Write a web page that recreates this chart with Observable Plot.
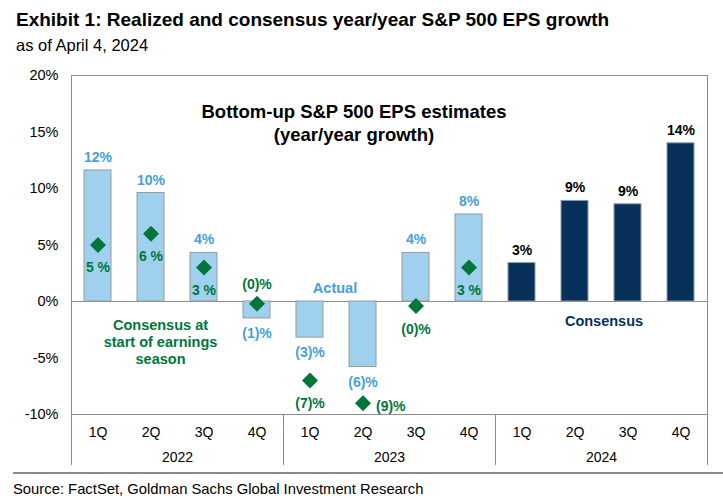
<!DOCTYPE html>
<html>
<head>
<meta charset="utf-8">
<script src="https://cdn.jsdelivr.net/npm/d3@7"></script>
<script src="https://cdn.jsdelivr.net/npm/@observablehq/plot@0.6"></script>
<style>
  html, body { margin: 0; padding: 0; background: #fff; }
  #wrap { position: relative; width: 723px; height: 503px; overflow: hidden; font-family: "Liberation Sans", Arial, sans-serif; color: #000; }
  #title { position: absolute; left: 16px; top: 9px; font-size: 19px; font-weight: bold; line-height: 22px; white-space: nowrap; }
  #subtitle { position: absolute; left: 16px; top: 35px; font-size: 16.5px; line-height: 20px; white-space: nowrap; }
  #chart { position: absolute; left: 0; top: 60px; }
  #sep { position: absolute; left: 13px; right: 0; top: 472px; height: 2px; background: #8c8c8c; }
  #source { position: absolute; left: 13px; top: 480px; font-size: 14.8px; line-height: 18px; white-space: nowrap; }
</style>
</head>
<body>
<div id="wrap">
  <div id="title">Exhibit 1: Realized and consensus year/year S&amp;P 500 EPS growth</div>
  <div id="subtitle">as of April 4, 2024</div>
  <div id="chart"></div>
  <div id="sep"></div>
  <div id="source">Source: FactSet, Goldman Sachs Global Investment Research</div>
</div>
<script>
// ---- data ----
const actualYears = ["2022", "2022", "2022", "2022", "2023", "2023", "2023", "2023"];
const actualQuarters = ["1Q", "2Q", "3Q", "4Q", "1Q", "2Q", "3Q", "4Q"];
const actualGrowth = [11.6, 9.6, 4.3, -1.5, -3.2, -5.8, 4.3, 7.7];
const actualLabels = ["12%", "10%", "4%", "(1)%", "(3)%", "(6)%", "4%", "8%"];

const startConsensus = [5.0, 6.0, 3.0, -0.2, -7.0, -9.0, -0.4, 3.0];
const startLabels = ["5 %", "6 %", "3 %", "(0)%", "(7)%", "(9)%", "(0)%", "3 %"];
const startLabelSide = ["below", "below", "below", "above", "below", "right", "below", "below"];

const consensusYears = ["2024", "2024", "2024", "2024"];
const consensusQuarters = ["1Q", "2Q", "3Q", "4Q"];
const consensusGrowth = [3.4, 8.9, 8.6, 14.0];
const consensusLabels = ["3%", "9%", "9%", "14%"];

const yTicks = [-10, -5, 0, 5, 10, 15, 20];

// ---- tables ----
const actual = actualGrowth.map((v, i) => ({year: actualYears[i], q: actualQuarters[i], value: v, label: actualLabels[i]}));
const start = startConsensus.map((v, i) => ({year: actualYears[i], q: actualQuarters[i], value: v, label: startLabels[i], side: startLabelSide[i]}));
const consensus = consensusGrowth.map((v, i) => ({year: consensusYears[i], q: consensusQuarters[i], value: v, label: consensusLabels[i]}));

const LIGHT = "#9fd0ee", LIGHT_TEXT = "#45a0dc", NAVY = "#07305a", GREEN = "#00763a", GRID = "#8c8c8c";
const FONT = "Liberation Sans, Arial, sans-serif";
const H = 410, MT = 15, MB = 56;

const chart = Plot.plot({
  width: 723,
  height: H,
  marginTop: MT,
  marginBottom: MB,
  marginLeft: 70,
  marginRight: 15,
  style: {fontFamily: FONT, fontSize: "14px", color: "#000", background: "transparent"},
  fx: {domain: ["2022", "2023", "2024"], padding: 0, label: null},
  x: {domain: ["1Q", "2Q", "3Q", "4Q"], paddingInner: 0.49, paddingOuter: 0.245, label: null},
  y: {domain: [-10, 20], label: null},
  marks: [
    Plot.ruleY([0], {stroke: GRID, strokeWidth: 1}),
    Plot.barY(actual, {fx: "year", x: "q", y: "value", fill: LIGHT, stroke: "#9a9a9a", strokeWidth: 1}),
    Plot.barY(consensus, {fx: "year", x: "q", y: "value", fill: NAVY, stroke: "#8f9aa6", strokeWidth: 1}),
    // outer frame of the plot area
    Plot.frame({facet: "super", stroke: GRID}),
    // year dividers in the axis area below the plot
    Plot.frame({anchor: "left", stroke: GRID, insetTop: H - MT - MB, insetBottom: -50}),
    Plot.frame({anchor: "right", stroke: GRID, insetTop: H - MT - MB, insetBottom: -50}),
    Plot.dot(start, {fx: "year", x: "q", y: "value", symbol: "diamond2", r: 7.2, fill: GREEN, stroke: "none"}),
    // actual labels
    Plot.text(actual.filter(d => d.value >= 0), {fx: "year", x: "q", y: "value", text: "label", dy: -13, fill: LIGHT_TEXT, fontWeight: "bold", fontSize: 14, fontFamily: FONT}),
    Plot.text(actual.filter(d => d.value < 0), {fx: "year", x: "q", y: "value", text: "label", dy: 15, fill: LIGHT_TEXT, fontWeight: "bold", fontSize: 14, fontFamily: FONT}),
    // consensus 2024 labels
    Plot.text(consensus, {fx: "year", x: "q", y: "value", text: "label", dy: -13, fill: "#000", fontWeight: "bold", fontSize: 14, fontFamily: FONT}),
    // start-of-season consensus labels
    Plot.text(start.filter(d => d.side === "below"), {fx: "year", x: "q", y: "value", text: "label", dy: 23, fill: GREEN, fontWeight: "bold", fontSize: 14, fontFamily: FONT}),
    Plot.text(start.filter(d => d.side === "above"), {fx: "year", x: "q", y: "value", text: "label", dy: -19, fill: GREEN, fontWeight: "bold", fontSize: 14, fontFamily: FONT}),
    Plot.text(start.filter(d => d.side === "right"), {fx: "year", x: "q", y: "value", text: "label", dx: 13, dy: 3, textAnchor: "start", fill: GREEN, fontWeight: "bold", fontSize: 14, fontFamily: FONT}),
    // annotations
    Plot.text(["Bottom-up S&P 500 EPS estimates\n(year/year growth)"], {fx: () => "2023", x: () => "2Q", y: () => 15.9, text: d => d, dx: -9, lineHeight: 1.26, fill: "#000", fontWeight: "bold", fontSize: 18.5, fontFamily: FONT}),
    Plot.text(["Actual"], {fx: () => "2023", x: () => "1Q", y: () => 1.2, text: d => d, dx: 25, fill: LIGHT_TEXT, fontWeight: "bold", fontSize: 14.5, fontFamily: FONT}),
    Plot.text(["Consensus at\nstart of earnings\nseason"], {fx: () => "2022", x: () => "2Q", y: () => -3.53, text: d => d, dx: 9.5, lineHeight: 1.18, fill: GREEN, fontWeight: "bold", fontSize: 14.5, fontFamily: FONT}),
    Plot.text(["Consensus"], {fx: () => "2024", x: () => "3Q", y: () => -1.8, text: d => d, dx: -24, fill: NAVY, fontWeight: "bold", fontSize: 14.5, fontFamily: FONT}),
    // axes
    Plot.axisY({ticks: yTicks, tickFormat: d => d + "%", tickSize: 0, tickPadding: 13, fontSize: 14.5, fontFamily: FONT, fill: "#000", label: null}),
    Plot.axisX({tickSize: 0, tickPadding: 13, fontSize: 14, fontFamily: FONT, fill: "#000", label: null}),
    Plot.axisFx({anchor: "bottom", tickSize: 0, tickPadding: 38, fontSize: 14, fontFamily: FONT, fill: "#000", label: null})
  ]
});
document.getElementById("chart").appendChild(chart);
</script>
</body>
</html>
